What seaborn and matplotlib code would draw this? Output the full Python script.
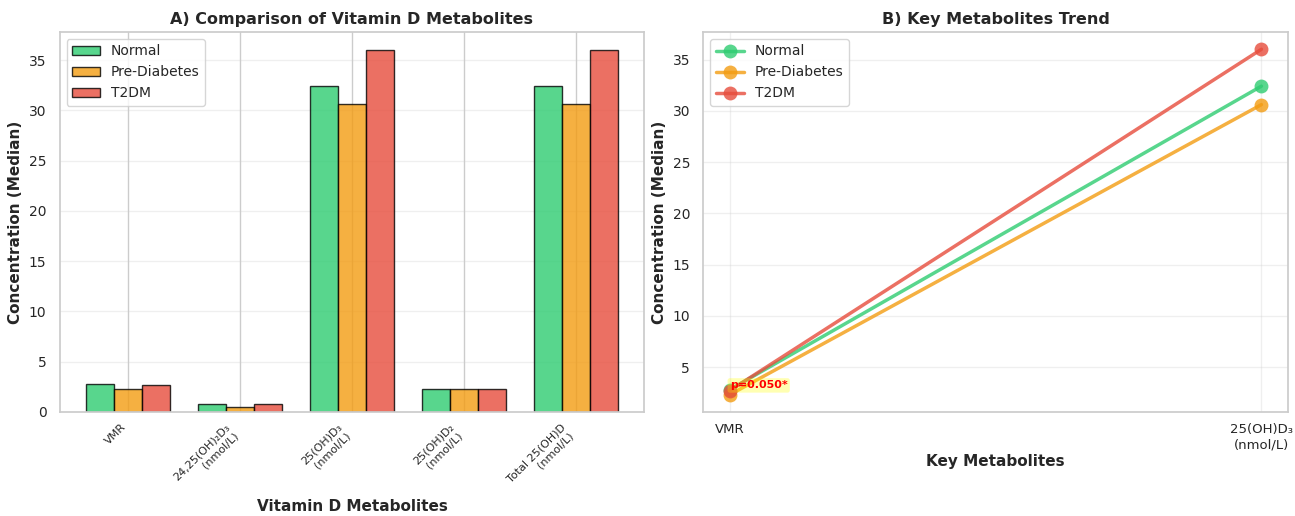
import matplotlib
matplotlib.use("Agg")
import matplotlib.pyplot as plt
import seaborn as sns
import pandas as pd

metabolites = ["VMR", "24,25(OH)₂D₃\n(nmol/L)", "25(OH)D₃\n(nmol/L)",
               "25(OH)D₂\n(nmol/L)", "Total 25(OH)D\n(nmol/L)"]
groups = ["Normal", "Pre-Diabetes", "T2DM"]
normal = [2.8, 0.8, 32.4, 2.3, 32.4]
pre_diabetes = [2.3, 0.5, 30.6, 2.3, 30.6]
t2dm = [2.7, 0.8, 36.0, 2.3, 36.0]
colors = ["#2ecc71", "#f39c12", "#e74c3c"]

key_metabolites = ["VMR", "25(OH)D₃\n(nmol/L)"]
key_normal = [2.8, 32.4]
key_pre = [2.3, 30.6]
key_t2dm = [2.7, 36.0]
p_label = "p=0.050*"

sns.set_theme(style="whitegrid")
plt.rcParams["font.family"] = ["DejaVu Sans"]

rows = []
for g, vals in zip(groups, [normal, pre_diabetes, t2dm]):
    for m, v in zip(metabolites, vals):
        rows.append({"Metabolite": m, "Group": g, "Value": v})
df = pd.DataFrame(rows)

krows = []
for g, vals in zip(groups, [key_normal, key_pre, key_t2dm]):
    for m, v in zip(key_metabolites, vals):
        krows.append({"Metabolite": m, "Group": g, "Value": v})
kdf = pd.DataFrame(krows)

fig, axes = plt.subplots(1, 2, figsize=(12.95, 5.16), dpi=100)
fig.subplots_adjust(left=0.046, right=0.9946, top=0.938, bottom=0.2016, wspace=0.1007)

ax = axes[0]
total_w = 0.75
sns.barplot(data=df, x="Metabolite", y="Value", hue="Group", palette=colors,
            alpha=0.8, edgecolor="black", linewidth=1, ax=ax, errorbar=None,
            saturation=1, width=total_w)
n = len(metabolites)
span = (n - 1) + total_w
ax.set_xlim(-total_w / 2 - 0.05 * span, (n - 1) + total_w / 2 + 0.05 * span)
ax.set_title("A) Comparison of Vitamin D Metabolites", fontsize=11.5, fontweight="bold")
ax.set_xlabel("Vitamin D Metabolites", fontsize=11, fontweight="bold", labelpad=5)
ax.set_ylabel("Concentration (Median)", fontsize=11, fontweight="bold")
plt.setp(ax.get_xticklabels(), rotation=45, ha="right", fontsize=8)
ax.tick_params(axis="x", pad=1)
ax.tick_params(axis="y", labelsize=10)
ax.legend(loc="upper left", fontsize=10)
ax.grid(True, axis="x")
ax.grid(True, axis="y", alpha=0.3)

ax = axes[1]
sns.lineplot(data=kdf, x="Metabolite", y="Value", hue="Group", palette=colors,
             marker="o", markersize=10, linewidth=2.5, alpha=0.8,
             markeredgewidth=0, ax=ax)
ax.set_title("B) Key Metabolites Trend", fontsize=11.5, fontweight="bold")
ax.set_xlabel("Key Metabolites", fontsize=11, fontweight="bold", labelpad=2)
ax.set_ylabel("Concentration (Median)", fontsize=11, fontweight="bold")
ax.tick_params(axis="x", labelsize=9.5, pad=2)
ax.tick_params(axis="y", labelsize=10)
ax.legend(loc="upper left", fontsize=10)
ax.grid(True, alpha=0.3)
ax.annotate(p_label, xy=(0, max(key_normal[0], key_pre[0], key_t2dm[0])),
            xytext=(0, 3), textcoords="offset points",
            fontsize=8, color="red", fontweight="bold", ha="left", va="center",
            bbox=dict(boxstyle="round,pad=0.2", facecolor="yellow", alpha=0.3, edgecolor="none"))

fig.savefig("out.png", dpi=100)
